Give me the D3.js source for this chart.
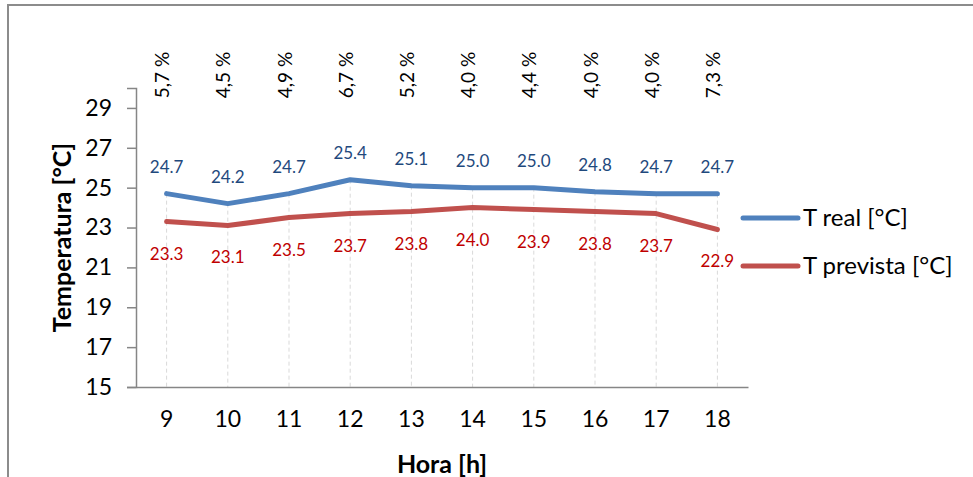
<!DOCTYPE html>
<html>
<head>
<meta charset="utf-8">
<script src="https://cdn.jsdelivr.net/npm/d3@7"></script>
<style>
  body { margin: 0; background: #fff; }
  svg { display: block; font-family: Lato, 'Open Sans', sans-serif; }
</style>
</head>
<body>
<div class="chart-holder"></div>
<script>
let hours = ['9', '10', '11', '12', '13', '14', '15', '16', '17', '18']
let tReal = [24.7, 24.2, 24.7, 25.4, 25.1, 25.0, 25.0, 24.8, 24.7, 24.7]
let tPrevista = [23.3, 23.1, 23.5, 23.7, 23.8, 24.0, 23.9, 23.8, 23.7, 22.9]
let errorPct = ['5,7 %', '4,5 %', '4,9 %', '6,7 %', '5,2 %', '4,0 %', '4,4 %', '4,0 %', '4,0 %', '7,3 %']
let yTicks = [15, 17, 19, 21, 23, 25, 27, 29]
let seriesNames = ['T real [°C]', 'T prevista [°C]']

let width = 973
let height = 477
let margin = { top: 88, bottom: 90, left: 136, right: 225 }

let svg = d3.select('.chart-holder')
    .append('svg')
        .attr('width', width)
        .attr('height', height)

// outer frame (only top and left edges visible)
svg.append('line')
    .attr('x1', 7.5).attr('x2', width).attr('y1', 5).attr('y2', 5)
    .attr('stroke', '#8c8c8c').attr('stroke-width', 2)
svg.append('line')
    .attr('x1', 8).attr('x2', 8).attr('y1', 4).attr('y2', height)
    .attr('stroke', '#8c8c8c').attr('stroke-width', 2)

let x = d3.scaleBand()
    .domain(hours)
    .range([margin.left, width - margin.right])

let y = d3.scaleLinear()
    .domain([15, 30])
    .range([height - margin.bottom, margin.top])

let cx = d => x(d) + x.bandwidth() / 2

let plot = svg.append('g').attr('class', 'plot')

// drop lines from the top series down to the axis
plot.append('g').attr('class', 'drop-lines')
    .selectAll('line')
    .data(hours)
    .enter()
    .append('line')
        .attr('x1', d => cx(d)).attr('x2', d => cx(d))
        .attr('y1', (d, i) => y(tReal[i]))
        .attr('y2', y(15))
        .attr('stroke', '#d9d9d9')
        .attr('stroke-width', 1)
        .attr('stroke-dasharray', '4,3')

// y axis
let yAxis = svg.append('g')
    .attr('transform', 'translate(' + margin.left + ',0)')
    .call(d3.axisLeft(y).tickValues(yTicks).tickSize(9).tickPadding(15))
yAxis.select('.domain').attr('stroke', '#868686').attr('stroke-width', 1.5)
yAxis.selectAll('.tick line').attr('stroke', '#868686').attr('stroke-width', 1.5)
yAxis.selectAll('.tick text')
    .attr('font-size', 23).attr('fill', '#000')
    .style('font-family', 'Lato, sans-serif')

// x axis
let xAxis = svg.append('g')
    .attr('transform', 'translate(0,' + y(15) + ')')
    .call(d3.axisBottom(x).tickSize(0).tickPadding(24))
xAxis.select('.domain').attr('stroke', '#868686').attr('stroke-width', 1.5)
xAxis.selectAll('.tick text')
    .attr('font-size', 23).attr('fill', '#000')
    .style('font-family', 'Lato, sans-serif')

// axis titles
svg.append('text')
    .attr('transform', 'translate(71,' + (y(15) + y(30)) / 2 + ') rotate(-90)')
    .attr('text-anchor', 'middle')
    .attr('font-size', 25).attr('font-weight', 'bold')
    .text('Temperatura [°C]')

svg.append('text')
    .attr('x', (margin.left + width - margin.right) / 2)
    .attr('y', 473)
    .attr('text-anchor', 'middle')
    .attr('font-size', 25).attr('font-weight', 'bold')
    .text('Hora [h]')

// lines
let line = d3.line()
    .x((d, i) => cx(hours[i]))
    .y(d => y(d))

let colors = ['#4f81bd', '#c0504d']
let labelColors = ['#1f497d', '#c00000']

;[tReal, tPrevista].forEach(function(series, s){
    plot.append('path')
        .datum(series)
        .attr('fill', 'none')
        .attr('stroke', colors[s])
        .attr('stroke-width', 5)
        .attr('stroke-linecap', 'round')
        .attr('stroke-linejoin', 'round')
        .attr('d', line)

    plot.append('g').attr('class', 'labels')
        .selectAll('text')
        .data(series)
        .enter()
        .append('text')
            .attr('x', (d, i) => cx(hours[i]))
            .attr('y', d => s === 0 ? y(d) - 27 : y(d) + 32)
            .attr('dy', '0.35em')
            .attr('text-anchor', 'middle')
            .attr('font-size', 17)
            .attr('fill', labelColors[s])
            .text(d => d.toFixed(1))
})

// error percentages along the top
svg.append('g').attr('class', 'pct')
    .selectAll('text')
    .data(errorPct)
    .enter()
    .append('text')
        .attr('transform', (d, i) => 'translate(' + (cx(hours[i]) - 4) + ',75) rotate(-90)')
        .attr('text-anchor', 'middle')
        .attr('dy', '0.35em')
        .attr('font-size', 19)
        .attr('fill', '#000')
        .text(d => d)

// legend
let legend = svg.append('g').attr('class', 'legend')
    .selectAll('g')
    .data(seriesNames)
    .enter()
    .append('g')
        .attr('transform', (d, i) => 'translate(743,' + (218 + i * 48) + ')')

legend.append('line')
    .attr('x1', 0).attr('x2', 55)
    .attr('stroke', (d, i) => colors[i])
    .attr('stroke-width', 5)
    .attr('stroke-linecap', 'round')

legend.append('text')
    .attr('x', 60)
    .attr('dy', '0.35em')
    .attr('font-size', 24)
    .attr('fill', '#000')
    .text(d => d)
</script>
</body>
</html>
